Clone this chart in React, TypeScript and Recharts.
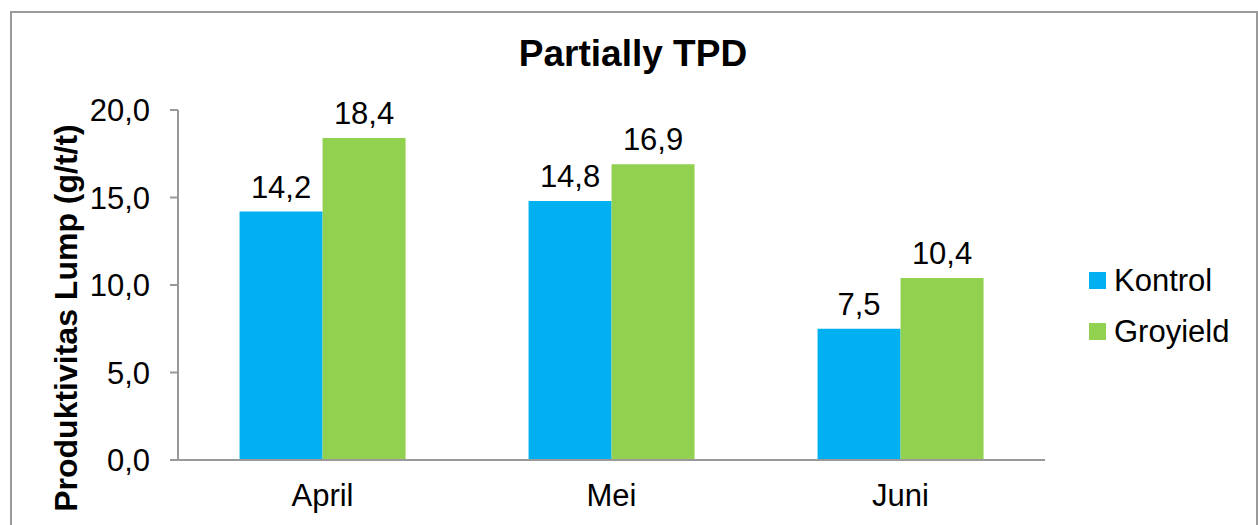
import { BarChart, Bar, XAxis, YAxis, LabelList } from 'recharts';

const months = ['April', 'Mei', 'Juni'];
const kontrol = [14.2, 14.8, 7.5];
const groyield = [18.4, 16.9, 10.4];
const yTicks = [0, 5, 10, 15, 20];

const series = [
  { key: 'kontrol', name: 'Kontrol', color: '#00B0F0' },
  { key: 'groyield', name: 'Groyield', color: '#92D050' },
];

const data = months.map((m, i) => ({ month: m, kontrol: kontrol[i], groyield: groyield[i] }));

const font = '"Liberation Sans", Arial, sans-serif';
const fmt = (v: number) => v.toFixed(1).replace('.', ',');

export default function App() {
  return (
    <div style={{ position: 'absolute', left: 0, top: 0, width: 1258, height: 525, background: '#fff', overflow: 'hidden' }}>
      <div
        style={{
          position: 'absolute',
          left: 10,
          top: 11,
          width: 1244,
          height: 540,
          border: '2px solid #9a9a9a',
        }}
      />
      <div
        style={{
          position: 'absolute',
          left: 0,
          top: 33,
          width: 1266,
          textAlign: 'center',
          fontFamily: font,
          fontWeight: 'bold',
          fontSize: 37,
        }}
      >
        Partially TPD
      </div>
      <div
        style={{
          position: 'absolute',
          left: 66,
          top: 318,
          transform: 'translate(-50%, -50%) rotate(-90deg)',
          whiteSpace: 'nowrap',
          fontFamily: font,
          fontWeight: 'bold',
          fontSize: 32,
        }}
      >
        Produktivitas Lump (g/t/t)
      </div>
      {/* legenda */}
      <div style={{ position: 'absolute', left: 1089, top: 255, fontFamily: font, fontSize: 31, color: '#000' }}>
        {series.map((s) => (
          <div key={s.key} style={{ display: 'flex', alignItems: 'center', height: 51 }}>
            <span style={{ width: 17, height: 17, background: s.color, marginRight: 8, display: 'inline-block' }} />
            <span>{s.name}</span>
          </div>
        ))}
      </div>
      <div style={{ position: 'absolute', left: 0, top: 0 }}>
        <BarChart
          width={1258}
          height={525}
          data={data}
          margin={{ top: 110, right: 213, bottom: 0, left: 0 }}
          barCategoryGap="21.3%"
          barGap={0}
        >
          <XAxis
            dataKey="month"
            height={65}
            tickLine={false}
            tickSize={0}
            tickMargin={24}
            axisLine={{ stroke: '#999', strokeWidth: 2 }}
            tick={{ fill: '#000', fontSize: 31, fontFamily: font }}
          />
          <YAxis
            width={178}
            domain={[0, 20]}
            ticks={yTicks}
            tickFormatter={fmt}
            tickSize={8}
            tickMargin={20}
            axisLine={{ stroke: '#999', strokeWidth: 2 }}
            tickLine={{ stroke: '#999', strokeWidth: 2 }}
            tick={{ fill: '#000', fontSize: 31, fontFamily: font }}
          />
          {series.map((s) => (
            <Bar key={s.key} dataKey={s.key} name={s.name} fill={s.color} isAnimationActive={false}>
              <LabelList
                dataKey={s.key}
                position="top"
                offset={14}
                formatter={(v: any) => fmt(Number(v))}
                style={{ fill: '#000', fontSize: 31, fontFamily: font }}
              />
            </Bar>
          ))}
        </BarChart>
      </div>
    </div>
  );
}
